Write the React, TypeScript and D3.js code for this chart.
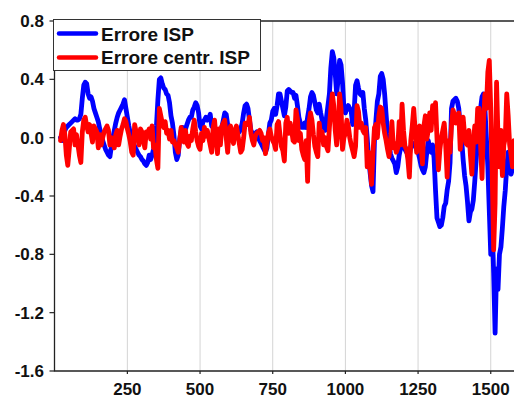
import React from "react";
import * as d3 from "d3";

const seriesNames = ["Errore ISP", "Errore centr. ISP"];
const seriesColors = ["#0000ff", "#ff0000"];
const xTicks = [250, 500, 750, 1000, 1250, 1500];
const yTicks = [0.8, 0.4, 0.0, -0.4, -0.8, -1.2, -1.6];
const sampleIndex = d3.range(20, 1581, 5);

const errIsp = [
  // 20..320
  0.0, -0.02, 0.02, 0.05, 0.07, 0.08, 0.09, 0.1, 0.11, 0.12, 0.13, 0.12, 0.12, 0.13, 0.16, 0.27, 0.36, 0.38, 0.37, 0.3,
  0.27, 0.28, 0.25, 0.2, 0.17, 0.14, 0.11, 0.06, 0.02, -0.02, -0.05, -0.08, -0.1, -0.12, -0.13, -0.06, 0.0, 0.05, 0.1, 0.14,
  0.17, 0.19, 0.21, 0.23, 0.26, 0.2, 0.14, 0.08, 0.03, 0.0, -0.03, -0.06, -0.08, -0.1, -0.12, -0.13, -0.15, -0.16, -0.18, -0.19,
  -0.17,
  // 325..645
  -0.12, -0.15, -0.12, -0.08, -0.03, 0.08, 0.26, 0.4, 0.41, 0.37, 0.34, 0.33, 0.3, 0.29, 0.24, 0.15, 0.1, 0.02, -0.1, -0.15,
  -0.12, -0.01, 0.05, 0.07, 0.065, 0.06, 0.09, 0.12, 0.14, 0.14, 0.19, 0.21, 0.24, 0.22, 0.17, 0.08, 0.06, 0.11, 0.12, 0.14,
  0.12, 0.13, 0.16, 0.08, 0.07, 0.075, 0.04, 0.01, 0.01, 0.02, 0.07, 0.12, 0.17, 0.16, 0.09, 0.06, 0.05, 0.05, 0.05, 0.04,
  0.04, 0.03, 0.04, 0.06, 0.1,
  // 650..965
  0.17, 0.22, 0.23, 0.2, 0.12, 0.05, 0.03, 0.03, 0.03, 0.04, 0.0, -0.02, -0.04, -0.06, -0.08, -0.1, -0.07, 0.02, 0.1, 0.12,
  0.18, 0.2, 0.16, 0.22, 0.3, 0.3, 0.25, 0.2, 0.15, 0.21, 0.32, 0.33, 0.32, 0.31, 0.31, 0.27, 0.29, 0.22, 0.14, 0.1,
  0.07, 0.07, 0.1, 0.07, 0.14, 0.2, 0.28, 0.31, 0.29, 0.24, 0.19, 0.17, 0.23, 0.17, 0.12, 0.08, 0.05, 0.14, 0.22, 0.3,
  0.48, 0.59, 0.55, 0.44,
  // 970..1285
  0.3, 0.4, 0.53, 0.5, 0.38, 0.2, 0.17, 0.2, 0.22, 0.2, 0.18, 0.09, 0.18, 0.36, 0.39, 0.34, 0.3, 0.29, 0.31, 0.2,
  0.12, 0.0, -0.15, -0.24, -0.33, -0.37, -0.02, 0.12, 0.25, 0.3, 0.42, 0.44, 0.4, 0.3, 0.16, 0.03, -0.04, -0.11, -0.14, -0.16,
  -0.18, -0.24, -0.2, -0.12, -0.07, -0.05, -0.06, -0.08, -0.1, -0.08, -0.12, -0.06, -0.05, -0.04, -0.06, -0.08, -0.1, -0.14, -0.19, -0.22,
  -0.24, -0.2, -0.1, -0.02,
  // 1290..1580
  -0.07, -0.1, -0.05, -0.14, -0.36, -0.55, -0.58, -0.61, -0.6, -0.55, -0.47, -0.45, -0.36, -0.3, -0.17, 0.2, 0.25, 0.26, 0.27, 0.25,
  0.2, 0.08, -0.01, -0.15, -0.26, -0.33, -0.44, -0.57, -0.51, -0.49, -0.43, -0.3, -0.15, -0.02, 0.1, 0.2, 0.28, 0.3, 0.2, 0.0,
  -0.2, -0.5, -0.8, -0.6, -0.93, -1.34, -0.9, -1.04, -0.8, -0.75, -0.62, -0.47, -0.36, -0.2, -0.1, -0.22, -0.25, -0.21, -0.2,
];

const errCentrIsp = [
  // 20..320
  -0.02, 0.05, 0.09, 0.02, -0.12, -0.19, -0.08, 0.04, 0.05, 0.06, -0.05, 0.02, -0.05, -0.12, -0.17, 0.04, 0.12, 0.14, 0.08, 0.04,
  0.09, 0.03, -0.03, 0.08, 0.06, 0.04, -0.07, 0.02, -0.05, 0.0, 0.04, 0.06, 0.08, 0.05, -0.05, 0.0, -0.03, -0.07, 0.02, 0.05,
  -0.05, 0.01, 0.06, 0.09, 0.13, 0.11, 0.06, 0.02, -0.03, -0.1, -0.12, 0.09, 0.04, 0.02, -0.05, 0.06, 0.04, -0.02, -0.07, 0.04,
  0.02,
  // 325..645
  0.06, -0.01, 0.08, -0.07, -0.05, -0.15, -0.21, 0.2, 0.15, 0.1, 0.07, 0.11, 0.03, 0.05, -0.01, 0.05, -0.03, -0.02, -0.05, -0.07,
  -0.1, -0.02, 0.07, 0.01, -0.03, 0.05, -0.04, -0.06, 0.01, -0.02, 0.06, 0.12, 0.04, -0.02, -0.06, -0.08, 0.03, -0.02, 0.07, 0.01,
  0.05, 0.0, -0.05, -0.1, 0.07, 0.12, -0.01, -0.11, 0.06, -0.05, 0.08, 0.1, 0.12, 0.0, -0.1, 0.05, 0.08, 0.0, -0.04, 0.05,
  0.08, 0.02, -0.04, -0.1, -0.08,
  // 650..965
  0.0, 0.1, 0.1, 0.09, 0.14, 0.03, -0.02, -0.05, 0.01, 0.03, 0.04, 0.05, 0.03, -0.02, 0.0, -0.11, -0.04, 0.03, 0.06, 0.01,
  -0.02, -0.04, -0.08, 0.09, 0.11, 0.02, -0.06, -0.09, -0.16, 0.1, 0.14, 0.03, 0.1, 0.05, -0.02, -0.03, 0.19, 0.13, -0.02, 0.03,
  -0.08, -0.12, -0.15, -0.02, -0.3, 0.1, 0.17, 0.12, 0.02, -0.06, -0.1, -0.13, 0.1, 0.0, 0.04, -0.05, 0.0, -0.06, -0.09, 0.07,
  0.2, 0.3, 0.22, 0.05,
  // 970..1285
  -0.05, 0.05, 0.3, 0.2, -0.08, 0.0, 0.03, 0.12, 0.08, 0.0, -0.05, -0.09, -0.13, -0.06, 0.22, 0.18, 0.07, 0.1, 0.05, 0.03,
  0.07, -0.2, -0.1, -0.2, -0.32, -0.1, 0.07, 0.09, 0.0, 0.15, 0.21, 0.2, 0.1, 0.03, -0.02, -0.08, -0.13, -0.03, 0.11, -0.07,
  -0.04, -0.1, -0.07, 0.11, -0.05, 0.23, 0.05, -0.06, -0.08, -0.15, -0.27, -0.02, 0.08, 0.2, 0.05, -0.1, 0.05, 0.08, -0.05, -0.18,
  0.08, 0.15, -0.01, 0.05,
  // 1290..1580
  0.17, 0.05, 0.22, 0.12, 0.24, 0.0, -0.22, -0.08, 0.0, 0.05, 0.1, -0.05, -0.27, -0.02, -0.1, 0.08, 0.19, 0.16, 0.1, 0.13,
  0.17, -0.08, 0.05, 0.14, 0.02, -0.04, -0.05, 0.05, -0.12, -0.25, -0.04, 0.08, -0.03, 0.2, 0.2, -0.05, -0.28, 0.1, 0.3, 0.2,
  0.45, 0.53, 0.2, -0.25, -0.77, -0.45, 0.38, 0.0, -0.2, 0.05, -0.26, -0.05, 0.0, 0.3, 0.15, -0.05, -0.12, -0.2, -0.02,
];

const W = 514;
const H = 399;
const left = 54.5;
const right = 516;
const top = 21;
const bottom = 371;

export default function App() {
  const x = d3.scaleLinear().domain([0, 1580]).range([54.7, 514]);
  const y = d3.scaleLinear().domain([-1.6, 0.8]).range([bottom, top]);
  const line = d3
    .line<number>()
    .x((_, i) => x(sampleIndex[i]))
    .y((d) => y(d));
  const series = [errIsp, errCentrIsp];
  const font = "'Liberation Sans', Arial, sans-serif";

  return (
    <svg
      width={W}
      height={H}
      style={{ position: "absolute", left: 0, top: 0, background: "#fff" }}
      fontFamily={font}
    >
      <defs>
        <clipPath id="plot">
          <rect x={left} y={top} width={right - left} height={bottom - top} />
        </clipPath>
      </defs>
      {xTicks.map((t) => (
        <line key={"g" + t} x1={x(t)} x2={x(t)} y1={top} y2={bottom} stroke="#d4d4d4" strokeWidth={1} />
      ))}
      <g clipPath="url(#plot)">
        {series.map((s, k) => (
          <path
            key={k}
            d={line(s) || ""}
            fill="none"
            stroke={seriesColors[k]}
            strokeWidth={4.8}
            strokeLinejoin="round"
            strokeLinecap="round"
          />
        ))}
      </g>
      <path d={`M${left},${top}H${right}`} stroke="#222" strokeWidth={1.3} />
      <path d={`M${left},${top}V${bottom}H${right}`} fill="none" stroke="#222" strokeWidth={1.3} />
      {yTicks.map((t) => (
        <g key={"y" + t}>
          <line x1={left - 5} x2={left} y1={y(t)} y2={y(t)} stroke="#222" strokeWidth={1.2} />
          <text x={44} y={y(t)} dy="0.36em" textAnchor="end" fontSize={17} fontWeight="bold" fill="#111">
            {t.toFixed(1)}
          </text>
        </g>
      ))}
      {xTicks.map((t) => (
        <g key={"x" + t}>
          <line x1={x(t)} x2={x(t)} y1={bottom} y2={bottom + 3} stroke="#222" strokeWidth={1.2} />
          <text x={x(t)} y={395} textAnchor="middle" fontSize={17} fontWeight="bold" fill="#111">
            {t}
          </text>
        </g>
      ))}
      <g>
        <rect x={53.5} y={19.5} width={207} height={51} fill="#fff" stroke="#333" strokeWidth={1} />
        {seriesNames.map((n, k) => (
          <g key={n}>
            <line
              x1={59}
              x2={96}
              y1={33.5 + k * 24}
              y2={33.5 + k * 24}
              stroke={seriesColors[k]}
              strokeWidth={4.5}
              strokeLinecap="round"
            />
            <text x={101} y={40.5 + k * 23.5} fontSize={19} fontWeight="bold" fill="#111">
              {n}
            </text>
          </g>
        ))}
      </g>
    </svg>
  );
}
